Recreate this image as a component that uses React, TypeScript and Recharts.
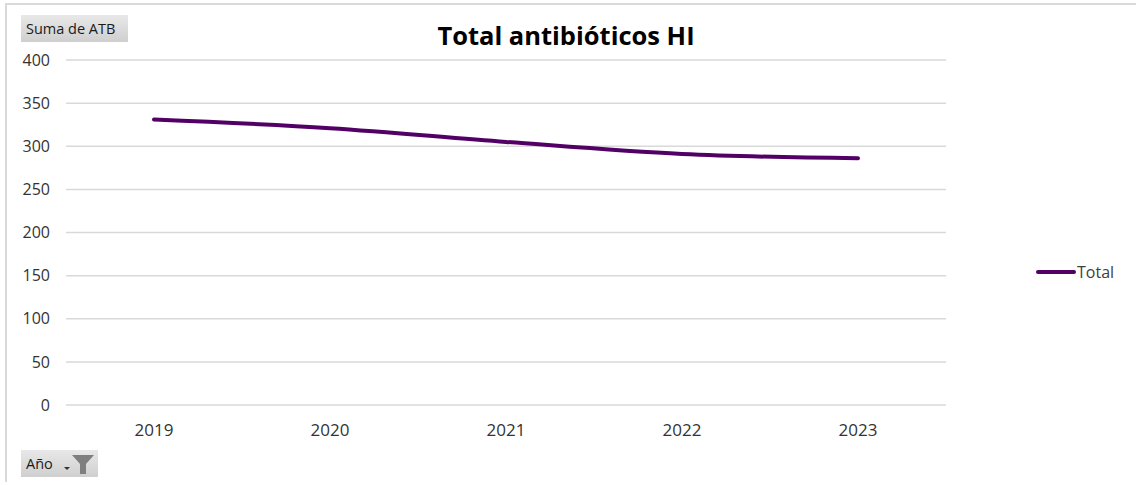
import React from 'react';
import { LineChart, Line, XAxis, YAxis, CartesianGrid, Legend } from 'recharts';

const years = ['2019', '2020', '2021', '2022', '2023'];
const totals = [331, 321, 305, 291, 286];
const yTicks = [0, 50, 100, 150, 200, 250, 300, 350, 400];
const seriesName = 'Total';
const chartTitle = 'Total antibióticos HI';
const valueButton = 'Suma de ATB';
const axisButton = 'Año';

const data = years.map((y, i) => ({ year: y, total: totals[i] }));

const LINE_COLOR = '#520066';
const FONT = '"Open Sans", "Noto Sans", sans-serif';

const LegendContent = (props: any) => {
  const payload = props.payload || [];
  return (
    <div style={{ display: 'flex', flexDirection: 'column' }}>
      {payload.map((p: any) => (
        <div key={p.value} style={{ display: 'flex', alignItems: 'center' }}>
          <div style={{ width: 40, height: 4, borderRadius: 2, background: p.color }} />
          <span style={{ fontFamily: FONT, fontSize: 16, color: '#404040', marginLeft: 1 }}>{p.value}</span>
        </div>
      ))}
    </div>
  );
};

const btnStyle: React.CSSProperties = {
  position: 'absolute',
  background: 'linear-gradient(#e8e8e8, #cfcfcf)',
  fontFamily: FONT,
  fontSize: 14.5,
  color: '#1a1a1a',
  display: 'flex',
  alignItems: 'center',
  boxSizing: 'border-box',
};

export default function App() {
  return (
    <div style={{ position: 'absolute', left: 0, top: 0, width: 1136, height: 485, background: '#fff', overflow: 'hidden' }}>
      <div style={{ position: 'absolute', left: 5, top: 3, right: -10, bottom: 3, borderTop: '2px solid #d9d9d9', borderLeft: '2px solid #d9d9d9' }} />
      <div style={{ position: 'absolute', left: 0, width: 1132, top: 18, textAlign: 'center', fontFamily: FONT, fontWeight: 700, fontSize: 25.5, color: '#000', lineHeight: 'normal' }}>
        {chartTitle}
      </div>
      <div style={{ ...btnStyle, left: 21, top: 15, width: 107, height: 27, paddingLeft: 5 }}>{valueButton}</div>
      <div style={{ ...btnStyle, left: 21, top: 450, width: 77, height: 27, paddingLeft: 5 }}>
        <span>{axisButton}</span>
        <svg width="48" height="27" style={{ position: 'absolute', left: 29, top: 0 }}>
          <path d="M14 17 L20 17 L17 20 Z" fill="#333" />
          <path d="M22 5 L44 5 L36 14 L36 24 L30 24 L30 14 Z" fill="#7f7f7f" />
        </svg>
      </div>
      <div style={{ position: 'absolute', left: 0, top: 0 }}>
        <LineChart width={1136} height={485} data={data} margin={{ top: 60, right: 90, bottom: 50, left: 0 }}>
          <CartesianGrid vertical={false} stroke="#d9d9d9" strokeWidth={1.5} />
          <XAxis
            dataKey="year"
            axisLine={false}
            tickLine={false}
            tickSize={0}
            tickMargin={19}
            height={30}
            padding={{ left: 88, right: 88 }}
            tick={{ fill: '#333333', fontSize: 17, fontFamily: FONT }}
          />
          <YAxis
            domain={[0, 400]}
            ticks={yTicks}
            interval={0}
            axisLine={false}
            tickLine={false}
            tickSize={0}
            tickMargin={16}
            width={66}
            tick={{ fill: '#333333', fontSize: 16, fontFamily: FONT }}
          />
          <Legend
            layout="vertical"
            align="right"
            verticalAlign="top"
            content={<LegendContent />}
            wrapperStyle={{ position: 'absolute', left: 1036, top: 261, width: 100 }}
          />
          <Line
            type="monotone"
            dataKey="total"
            name={seriesName}
            stroke={LINE_COLOR}
            strokeWidth={4}
            strokeLinecap="round"
            dot={false}
            activeDot={false}
            isAnimationActive={false}
          />
        </LineChart>
      </div>
    </div>
  );
}
